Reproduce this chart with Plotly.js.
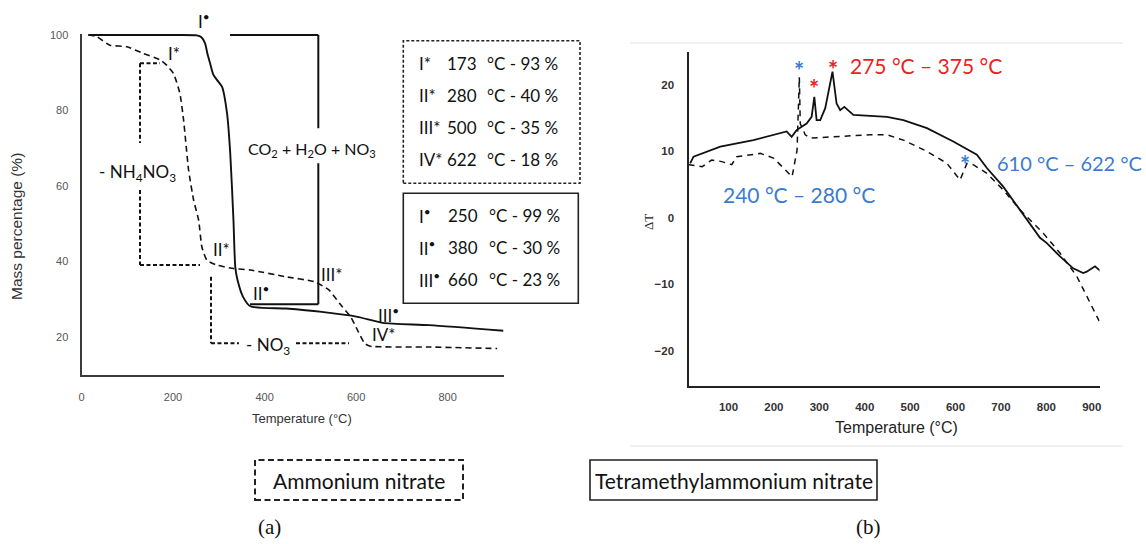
<!DOCTYPE html>
<html>
<head>
<meta charset="utf-8">
<script src="https://cdn.plot.ly/plotly-3.0.1.min.js"></script>
<style>html,body{margin:0;padding:0;background:#fff;}#chart{width:1146px;height:544px;}</style>
</head>
<body>
<div id="chart"></div>
<script>
// ---- (a) TGA data ----
const tgaTempAN = [15,33,62,99,135,172,186,201,215,223,234,245,256,263,274,296,332,369,447,509,541,564,588,603,619,631,760,908];
const tgaMassAN = [100,99.6,97.3,96.9,95.1,93.4,92,89.8,84.5,77.5,64.2,56.2,50.9,43.8,40.3,39,38.1,37.7,35.9,34.6,32.4,28.8,25.3,21.8,18.2,17.5,17.3,16.9];
const tgaTempTMA = [15,100,200,252,262,270,275,281,288,296,307,318,325,332,336,341,353,369,447,525,603,658,760,922];
const tgaMassTMA = [100,100,100,99.9,99.4,97.8,95.1,92.5,89.5,88.1,86.3,79.2,68.6,50.9,38.5,35,30.6,28.1,27.5,26.6,25.3,23.7,23.1,21.6];
const tgaXTicks = [0,200,400,600,800];
const tgaYTicks = [20,40,60,80,100];

// ---- (b) DTA data ----
const dtaTempTMA = [15.6,23,82,155,228,239,250,272,283,289,294,302,313,320,329,338,346,355,375,449,485,537,595,647,669,705,742,786,801,830,859,881,889,907,921];
const dtaTMA = [8.2,9.2,10.7,11.7,13,12.2,13.2,14.2,15.2,18.2,14.7,14.7,16.5,18.7,22,17.2,16.2,16.7,15.5,15.2,14.7,13.5,11.5,9.5,7.5,4.7,1.2,-3.0,-3.8,-5.8,-7.6,-8.3,-8.1,-7.3,-8.1];
const dtaTempAN = [12,42,63,83,107,118,170,199,221,240,251,256,258,269,280,339,412,449,485,537,581,610,625,639,669,705,742,793,830,867,922];
const dtaAN = [8.0,7.7,8.7,8.5,8.0,9.2,9.7,9.0,7.5,6.2,10.2,21.2,14.2,12.5,12.0,12.2,12.5,12.5,11.7,10.0,8.2,5.7,8.2,8.0,6.7,4.2,1.2,-2.3,-5.3,-8.8,-16.3];
const dtaXTicks = [100,200,300,400,500,600,700,800,900];
const dtaYTicks = [-20,-10,0,10,20];

// ---- text tables ----
const anRows = [["I*","173","°C - 93 %"],["II*","280","°C - 40 %"],["III*","500","°C - 35 %"],["IV*","622","°C - 18 %"]];
const tmaRows = [["I<sup>•</sup>","250","°C - 99 %"],["II<sup>•</sup>","380","°C - 30 %"],["III<sup>•</sup>","660","°C - 23 %"]];

const W = 1146, H = 544;
const PX = p => p / W, PY = p => 1 - p / H;
const LATO = "Lato, 'Open Sans', sans-serif";
const RED = '#e8231f', BLUE = '#3a7bd0';

const traces = [
  {x: tgaTempAN, y: tgaMassAN, xaxis:'x', yaxis:'y', mode:'lines', line:{color:'#111', width:1.6, dash:'6px,4px', shape:'spline', smoothing:0.5}, hoverinfo:'skip'},
  {x: tgaTempTMA, y: tgaMassTMA, xaxis:'x', yaxis:'y', mode:'lines', line:{color:'#111', width:1.9, shape:'spline', smoothing:0.6}, hoverinfo:'skip'},
  {x: dtaTempAN, y: dtaAN, xaxis:'x2', yaxis:'y2', mode:'lines', line:{color:'#111', width:1.5, dash:'6px,5px'}, hoverinfo:'skip'},
  {x: dtaTempTMA, y: dtaTMA, xaxis:'x2', yaxis:'y2', mode:'lines', line:{color:'#111', width:1.8}, hoverinfo:'skip'}
];

const ann = [];
function A(text, x, y, o) {
  o = o || {};
  const f = {family: o.family || LATO, size: o.size || 17, color: o.color || '#111'};
  if (o.weight) f.weight = o.weight;
  ann.push(Object.assign({text: text, xref:'paper', yref:'paper', x: PX(x), y: PY(y), showarrow:false,
    xanchor: o.xa || 'center', yanchor:'middle', font: f}, o.extra || {}));
}
// (a) labels
A("I<sup>•</sup>", 204, 21);
A("I*", 174, 54);
A("- NH<sub>4</sub>NO<sub>3</sub>", 137.5, 173);
A("CO<sub>2</sub> + H<sub>2</sub>O + NO<sub>3</sub>", 312, 149, {size:16});
A("II*", 221, 250);
A("III*", 332, 274);
A("II<sup>•</sup>", 261, 292);
A("III<sup>•</sup>", 388, 314);
A("IV*", 384, 334);
A("- NO<sub>3</sub>", 268, 346);
anRows.forEach((r, i) => {
  const yy = 63 + i * 32.2;
  A(r[0], 416.7, yy, {xa:'left'}); A(r[1], 444.5, yy, {xa:'left'}); A(r[2], 485, yy, {xa:'left'});
});
tmaRows.forEach((r, i) => {
  const yy = 215 + i * 32.2;
  A(r[0], 416.7, yy, {xa:'left'}); A(r[1], 445.5, yy, {xa:'left'}); A(r[2], 486.5, yy, {xa:'left'});
});
A("Temperature (°C)", 302, 418, {family:'Arial, Liberation Sans', size:13, color:'#333'});
A("Mass percentage (%)", 17, 227, {family:'Arial, Liberation Sans', size:15.5, color:'#333', extra:{textangle:-90}});
// (b) labels
A("*", 799, 71, {size:24, color:BLUE, weight:'bold'});
A("*", 814, 89, {size:24, color:RED, weight:'bold'});
A("*", 832.5, 69, {size:24, color:RED, weight:'bold'});
A("275 °C – 375 °C", 926, 65, {size:21, color:RED});
A("240 °C – 280 °C", 799, 195, {size:21, color:BLUE});
A("*", 965, 164, {size:24, color:BLUE, weight:'bold'});
A("610 °C – 622 °C", 995, 163, {size:20, color:BLUE, xa:'left'});
A("Temperature (°C)", 896, 427, {family:'Arial, Liberation Sans', size:16, color:'#222'});
A("ΔT", 648, 222, {family:"'Liberation Serif', 'DejaVu Serif', serif", size:13, color:'#222', extra:{textangle:-90}});
// legend boxes / panel tags
A("Ammonium nitrate", 359, 480, {size:21});
A("Tetramethylammonium nitrate", 734, 480, {size:21});
A("(a)", 269, 527, {family:"'Liberation Serif', 'DejaVu Serif', serif", size:21});
A("(b)", 868, 527, {family:"'Liberation Serif', 'DejaVu Serif', serif", size:21});

function L(x0,y0,x1,y1,dash,w,xr,yr,col){
  return {type:'line', xref:xr||'x', yref:yr||'y', x0:x0,y0:y0,x1:x1,y1:y1, line:{color:col||'#111', width:w||1.8, dash:dash||'solid'}};
}
const BD = '4px,2.5px';
const shapes = [
  // NH4NO3 bracket (dashed)
  L(127.8,92.5,171.5,92.5,BD,2), L(127.8,92.5,127.8,71.4,BD,2), L(127.8,58.9,127.8,39.05,BD,2), L(127.8,39.05,258.9,39.05,BD,2),
  // NO3 bracket (dashed)
  L(282.9,35.9,282.9,18.3,BD,2), L(282.9,18.3,344,18.3,BD,2), L(468.6,18.3,584.4,18.3,BD,2),
  // CO2 bracket (solid)
  L(324.4,100,517.4,100,'solid',2), L(517.4,100,517.4,75.3,'solid',2), L(517.4,66,517.4,28.6,'solid',2), L(368.2,28.6,517.4,28.6,'solid',2),
  // text boxes (a)
  {type:'rect', xref:'paper', yref:'paper', x0:PX(403.3), x1:PX(580), y0:PY(183.3), y1:PY(40.7), line:{color:'#222', width:1.6, dash:'3px,2px'}},
  {type:'rect', xref:'paper', yref:'paper', x0:PX(403.3), x1:PX(578.3), y0:PY(303.3), y1:PY(193.3), line:{color:'#222', width:1.6}},
  // legend boxes
  {type:'rect', xref:'paper', yref:'paper', x0:PX(255), x1:PX(463), y0:PY(500), y1:PY(460), line:{color:'#222', width:2, dash:'6px,3.5px'}},
  {type:'rect', xref:'paper', yref:'paper', x0:PX(590), x1:PX(877), y0:PY(500), y1:PY(460), line:{color:'#222', width:1.6}},
  // faint frame lines of panel (b)
  L(PX(630),PY(43),PX(1123),PY(43),'solid',1.5,'paper','paper','#ececec'),
  L(PX(630),PY(446),PX(1123),PY(446),'solid',1.5,'paper','paper','#ececec')
];

const axA = {showgrid:false, zeroline:false, showline:true, linecolor:'#3a3a3a', linewidth:2, ticks:'', tickfont:{family:'Arial, Liberation Sans', size:11, color:'#555'}, fixedrange:true};
const axB = {showgrid:false, zeroline:false, showline:true, linecolor:'#222', linewidth:1.6, ticks:'', tickfont:{family:'Arial, Liberation Sans', size:11.5, color:'#333', weight:'bold'}, fixedrange:true};

const layout = {
  width: W, height: H, margin:{l:0,r:0,t:0,b:0}, showlegend:false,
  paper_bgcolor:'#fff', plot_bgcolor:'rgba(0,0,0,0)',
  xaxis: Object.assign({}, axA, {domain:[PX(81.5), PX(503.5)], range:[0,922], tickvals:tgaXTicks, anchor:'y', ticklabelstandoff:10}),
  yaxis: Object.assign({}, axA, {domain:[PY(375.3), PY(33.5)], range:[9.8,100.4], tickvals:tgaYTicks, anchor:'x', ticklabelstandoff:9}),
  xaxis2: Object.assign({}, axB, {domain:[PX(689), PX(1099.5)], range:[13,917], tickvals:dtaXTicks, anchor:'y2', ticklabelstandoff:10}),
  yaxis2: Object.assign({}, axB, {domain:[PY(386), PY(51.7)], range:[-25.3,25], tickvals:dtaYTicks, anchor:'x2', ticklabelstandoff:11}),
  annotations: ann, shapes: shapes
};
Plotly.newPlot('chart', traces, layout, {displayModeBar:false, staticPlot:true});
</script>
</body>
</html>
